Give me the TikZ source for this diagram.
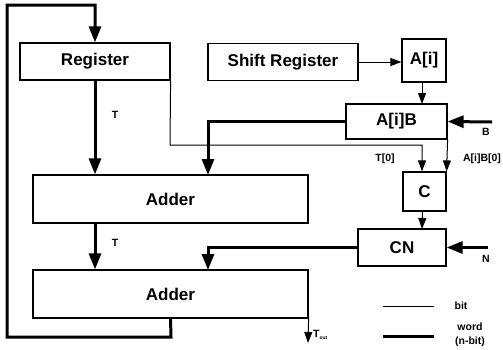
\documentclass[tikz,border=0pt]{standalone}
\usepackage{fontspec}
\setmainfont{Liberation Sans}
\usetikzlibrary{arrows.meta}
\begin{document}
\begin{tikzpicture}[x=1pt,y=-1pt,
  blk/.style={draw,line width=1.2pt,inner sep=0pt,font=\fontsize{17}{19}\selectfont\bfseries},
  thin/.style={line width=1pt,-{Triangle[length=11pt,width=8pt]}},
  thick/.style={line width=3pt,line join=miter,-{Triangle[length=16pt,width=12pt]}},
  thickline/.style={line width=3pt},
  thinline/.style={line width=1pt},
  lbl/.style={font=\fontsize{10.5}{12}\selectfont\bfseries,inner sep=0pt}]
\useasboundingbox (0,0) rectangle (503,349);
% boxes
\node[blk,minimum width=150pt,minimum height=37pt] (reg) at (95,61.5) {Register};
\node[blk,minimum width=150pt,minimum height=37pt] (sh) at (283,62) {Shift Register};
\node[blk,minimum width=44pt,minimum height=43pt] (ai) at (424,60.5) {A[i]};
\node[blk,minimum width=101pt,minimum height=35pt] (aib) at (396.5,121.5) {A[i]B};
\node[blk,minimum width=275pt,minimum height=48pt] (ad1) at (170.5,199) {Adder};
\node[blk,minimum width=275pt,minimum height=48pt] (ad2) at (170.5,294) {Adder};
\node[blk,minimum width=43pt,minimum height=39pt] (c) at (424.5,191.5) {C};
\node[blk,minimum width=88pt,minimum height=37pt] (cn) at (402,247.5) {CN};
% coordinates
\coordinate (fb1) at (171,337);
\coordinate (fb2) at (7,5);
\coordinate (t0a) at (170,145);
\coordinate (t0b) at (422,145);
\coordinate (ad1in) at (208,175);
\coordinate (ad2in) at (208,270);
\coordinate (bin) at (492,122);
\coordinate (nin) at (488,247.5);
\coordinate (tout) at (308,343);
\coordinate (l1a) at (383,306);
\coordinate (l1b) at (434,306);
\coordinate (l2a) at (383,336);
\coordinate (l2b) at (434,336);
% connectors
\draw[thick] (ad2.south) -- (fb1) -| (fb2) -| (reg.north);
\draw[thick] (reg.south) -- (reg.south |- ad1.north);
\draw[thick] (reg.south |- ad1.south) -- (reg.south |- ad2.north);
\draw[thick] (aib.west) -| (ad1in);
\draw[thick] (cn.west) -| (ad2in);
\draw[thick] (bin) -- (aib.east);
\draw[thick] (nin) -- (cn.east);
\draw[thin] (sh.east) -- (ai.west |- sh.east);
\draw[thin] (ai.south) ++(-2,0) -- (422,104);
\draw[thin] (c.south) ++(-2,0) -- (422,229);
\draw[thin] (reg.south east) -- (t0a) -- (t0b) -- (t0b |- c.north);
\draw[thin] (aib.south east) -- (c.north east);
\draw[thin] (ad2.south east) -- (tout);
\draw[thinline] (l1a) -- (l1b);
\draw[thickline] (l2a) -- (l2b);
% labels
\node[lbl] (lt1) at (115,115) {T};
\node[lbl] (lt2) at (115,243) {T};
\node[lbl] (lt0) at (385,159) {T[0]};
\node[lbl] (laib) at (482,159) {A[i]B[0]};
\node[lbl] (lb) at (486,132) {B};
\node[lbl] (ln) at (486,259) {N};
\node[lbl] (lbit) at (461,306) {bit};
\node[lbl] (lword) at (470,327) {word};
\node[lbl] (lnbit) at (470,342) {(n-bit)};
\node[lbl,anchor=west] (lout) at (313,335) {T\textsubscript{\fontsize{5}{6}\selectfont out}};
\end{tikzpicture}
\end{document}
